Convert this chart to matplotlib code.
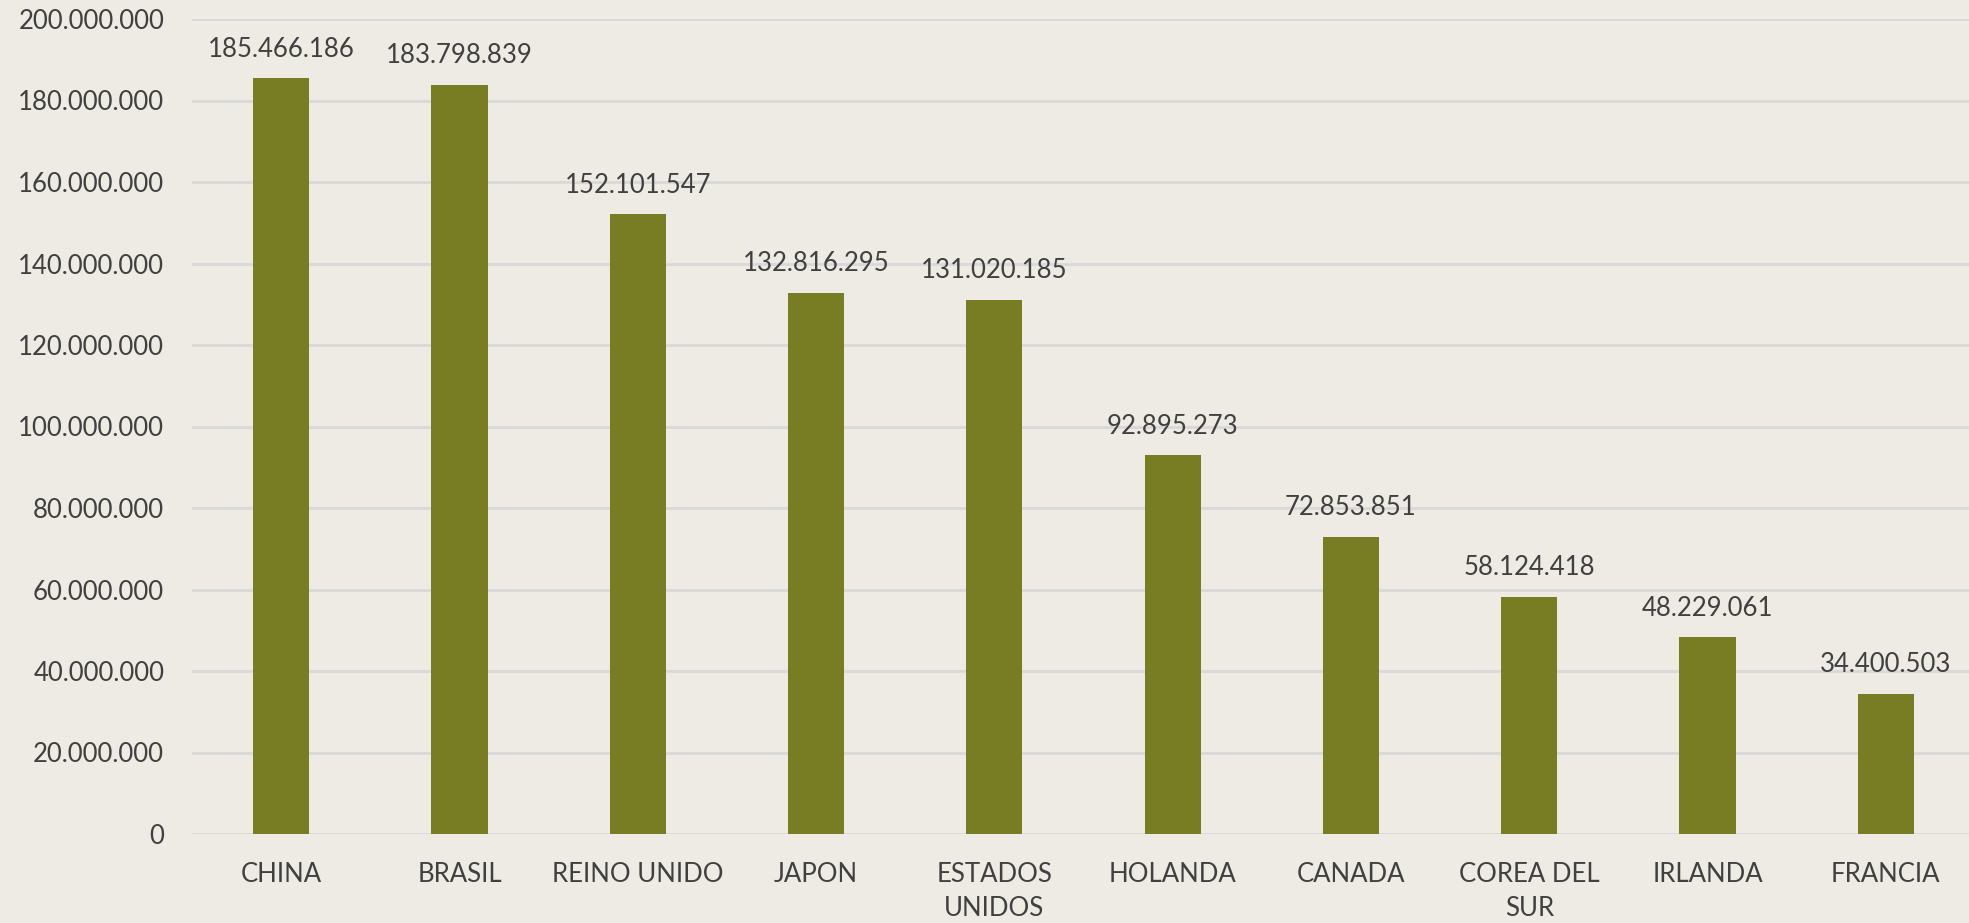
import matplotlib
matplotlib.use("Agg")
import matplotlib.pyplot as plt
from matplotlib.ticker import FuncFormatter

categories = ["CHINA", "BRASIL", "REINO UNIDO", "JAPON", "ESTADOS\nUNIDOS",
              "HOLANDA", "CANADA", "COREA DEL\nSUR", "IRLANDA", "FRANCIA"]
values = [185466186, 183798839, 152101547, 132816295, 131020185,
          92895273, 72853851, 58124418, 48229061, 34400503]
yticks = list(range(0, 200000001, 20000000))

def fmt(v):
    return f"{int(v):,}".replace(",", ".")

plt.rcParams['font.family'] = ['Lato', 'DejaVu Sans']
bg = "#EEEBE4"
txt = "#404040"

fig = plt.figure(figsize=(19.69, 9.23), dpi=100, facecolor=bg)
ax = fig.add_axes([192/1969, 1 - 834/923, (1975-192)/1969, (834-19)/923])
ax.set_facecolor(bg)

x = range(len(categories))
bars = ax.bar(x, values, width=0.315, color="#787D24", zorder=3)
ax.set_xlim(-0.5, len(categories) - 0.5)
ax.set_ylim(0, 200000000)
ax.set_yticks(yticks)
ax.yaxis.set_major_formatter(FuncFormatter(lambda v, p: fmt(v)))
ax.set_xticks(list(x))
ax.set_xticklabels(categories, linespacing=1.45)
ax.grid(axis='y', color="#D9D9D9", linewidth=2, zorder=0)
for s in ax.spines.values():
    s.set_visible(False)
ax.tick_params(axis='both', length=0, labelsize=18.5, labelcolor=txt)
ax.tick_params(axis='y', pad=20)
ax.tick_params(axis='x', pad=20)
for lbl in ax.get_xticklabels():
    lbl.set_verticalalignment('top')

for b, v in zip(bars, values):
    ax.annotate(fmt(v), (b.get_x() + b.get_width() / 2, v),
                xytext=(0, 12), textcoords="offset points",
                ha="center", va="bottom", fontsize=18.5, color=txt,
                clip_on=False)

fig.savefig("out.png", dpi=100, facecolor=bg)
